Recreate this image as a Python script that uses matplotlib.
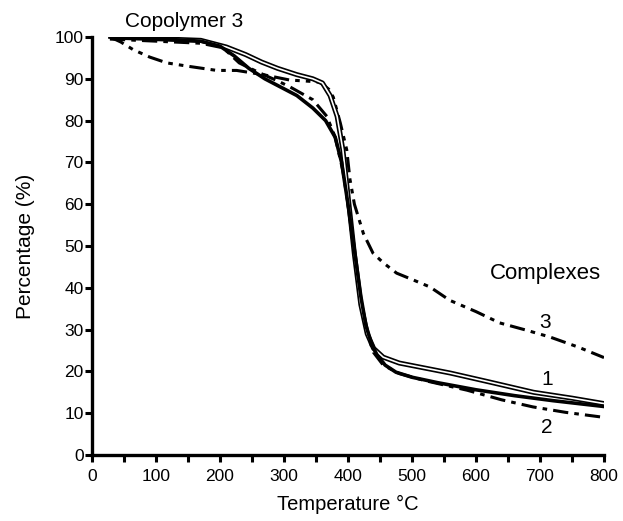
import matplotlib
matplotlib.use("Agg")
import matplotlib.pyplot as plt
from matplotlib.ticker import MultipleLocator

plt.rcParams["font.family"] = ["Liberation Sans", "DejaVu Sans"]

# copolymer 3 (thick solid)
temp_cop = [28, 100, 170, 200, 222, 245, 270, 295, 320, 345, 365, 380, 390, 400, 410, 420, 428, 436, 445, 458, 475, 500, 540, 600, 660, 720, 800]
pct_cop = [100, 99.6, 99, 97.8, 95.5, 92.5, 90, 88, 86, 83, 80, 76, 70, 60, 49, 38, 31, 27, 24, 21.5, 19.8, 18.6, 17.3, 15.6, 14.2, 13, 11.6]

# complex 1 (hollow line)
temp_c1 = [28, 100, 170, 210, 240, 265, 290, 320, 345, 360, 372, 383, 392, 400, 410, 420, 430, 440, 455, 480, 520, 560, 620, 690, 750, 800]
pct_c1 = [100, 99.6, 99.2, 97.6, 95.8, 94, 92.5, 91, 90, 89, 86, 81, 73, 62, 48, 36, 29, 25.5, 23.4, 22, 20.8, 19.6, 17.5, 15, 13.6, 12.3]

# complex 2 (dash-dot)
temp_c2 = [28, 100, 170, 205, 230, 262, 290, 310, 345, 367, 380, 392, 400, 410, 420, 430, 440, 455, 480, 520, 586, 640, 689, 740, 800]
pct_c2 = [99.5, 99, 98.5, 97.4, 93.8, 91.4, 89.5, 88, 85, 81, 76, 68, 60, 48, 37, 29, 24.5, 21.5, 19.5, 17.8, 15.5, 13.2, 11.5, 10.2, 9]

# complex 3 (dash-dot-dot)
temp_c3 = [28, 45, 64, 90, 117, 150, 195, 226, 267, 309, 340, 356, 370, 377, 388, 398, 403, 410, 418, 424, 439, 455, 476, 500, 528, 559, 600, 637, 680, 716, 760, 800]
pct_c3 = [100, 98.8, 97, 95.2, 93.8, 93, 92, 92, 91, 89.7, 89.4, 89.2, 87.5, 85.6, 79.4, 73, 66, 60, 56, 53, 48.3, 46, 43.5, 42, 40.2, 37, 34.3, 31.6, 29.8, 28.2, 25.8, 23.3]

fig = plt.figure(figsize=(6.23, 5.21), dpi=100)
ax = fig.add_axes([0.1477, 0.1267, 0.8218, 0.8023])

ax.plot(temp_c3, pct_c3, color="black", lw=2.2, dashes=(5, 2, 1.5, 2, 1.5, 2))
ax.plot(temp_c2, pct_c2, color="black", lw=2.2, dashes=(5, 2, 1.5, 2))
# hollow line: black outline with a white core
ax.plot(temp_c1, pct_c1, color="black", lw=3.6, solid_capstyle="butt")
ax.plot(temp_c1, pct_c1, color="white", lw=1.2, solid_capstyle="butt")
ax.plot(temp_cop, pct_cop, color="black", lw=2.6)

ax.set_xlim(0, 800)
ax.set_ylim(0, 100)
ax.xaxis.set_major_locator(MultipleLocator(100))
ax.xaxis.set_minor_locator(MultipleLocator(50))
ax.yaxis.set_major_locator(MultipleLocator(10))

for side in ["top", "right"]:
    ax.spines[side].set_visible(False)
for side in ["left", "bottom"]:
    ax.spines[side].set_linewidth(2.4)

ax.tick_params(axis="both", which="major", length=5, width=2.2, labelsize=12.5, direction="out")
ax.tick_params(axis="x", which="minor", length=5, width=2.2, direction="out")
ax.tick_params(axis="x", pad=5)
ax.tick_params(axis="y", pad=1)

ax.set_xlabel("Temperature °C", fontsize=14.5, labelpad=8)
ax.set_ylabel("Percentage (%)", fontsize=15, labelpad=14)

ax.text(144, 103.8, "Copolymer 3", fontsize=15, ha="center", va="center", clip_on=False)
ax.text(708, 43.5, "Complexes", fontsize=16, ha="center", va="center")
ax.text(708, 31.8, "3", fontsize=15, ha="center", va="center")
ax.text(711, 18, "1", fontsize=15, ha="center", va="center")
ax.text(711, 6.6, "2", fontsize=15, ha="center", va="center")

fig.savefig("out.png", dpi=100)
